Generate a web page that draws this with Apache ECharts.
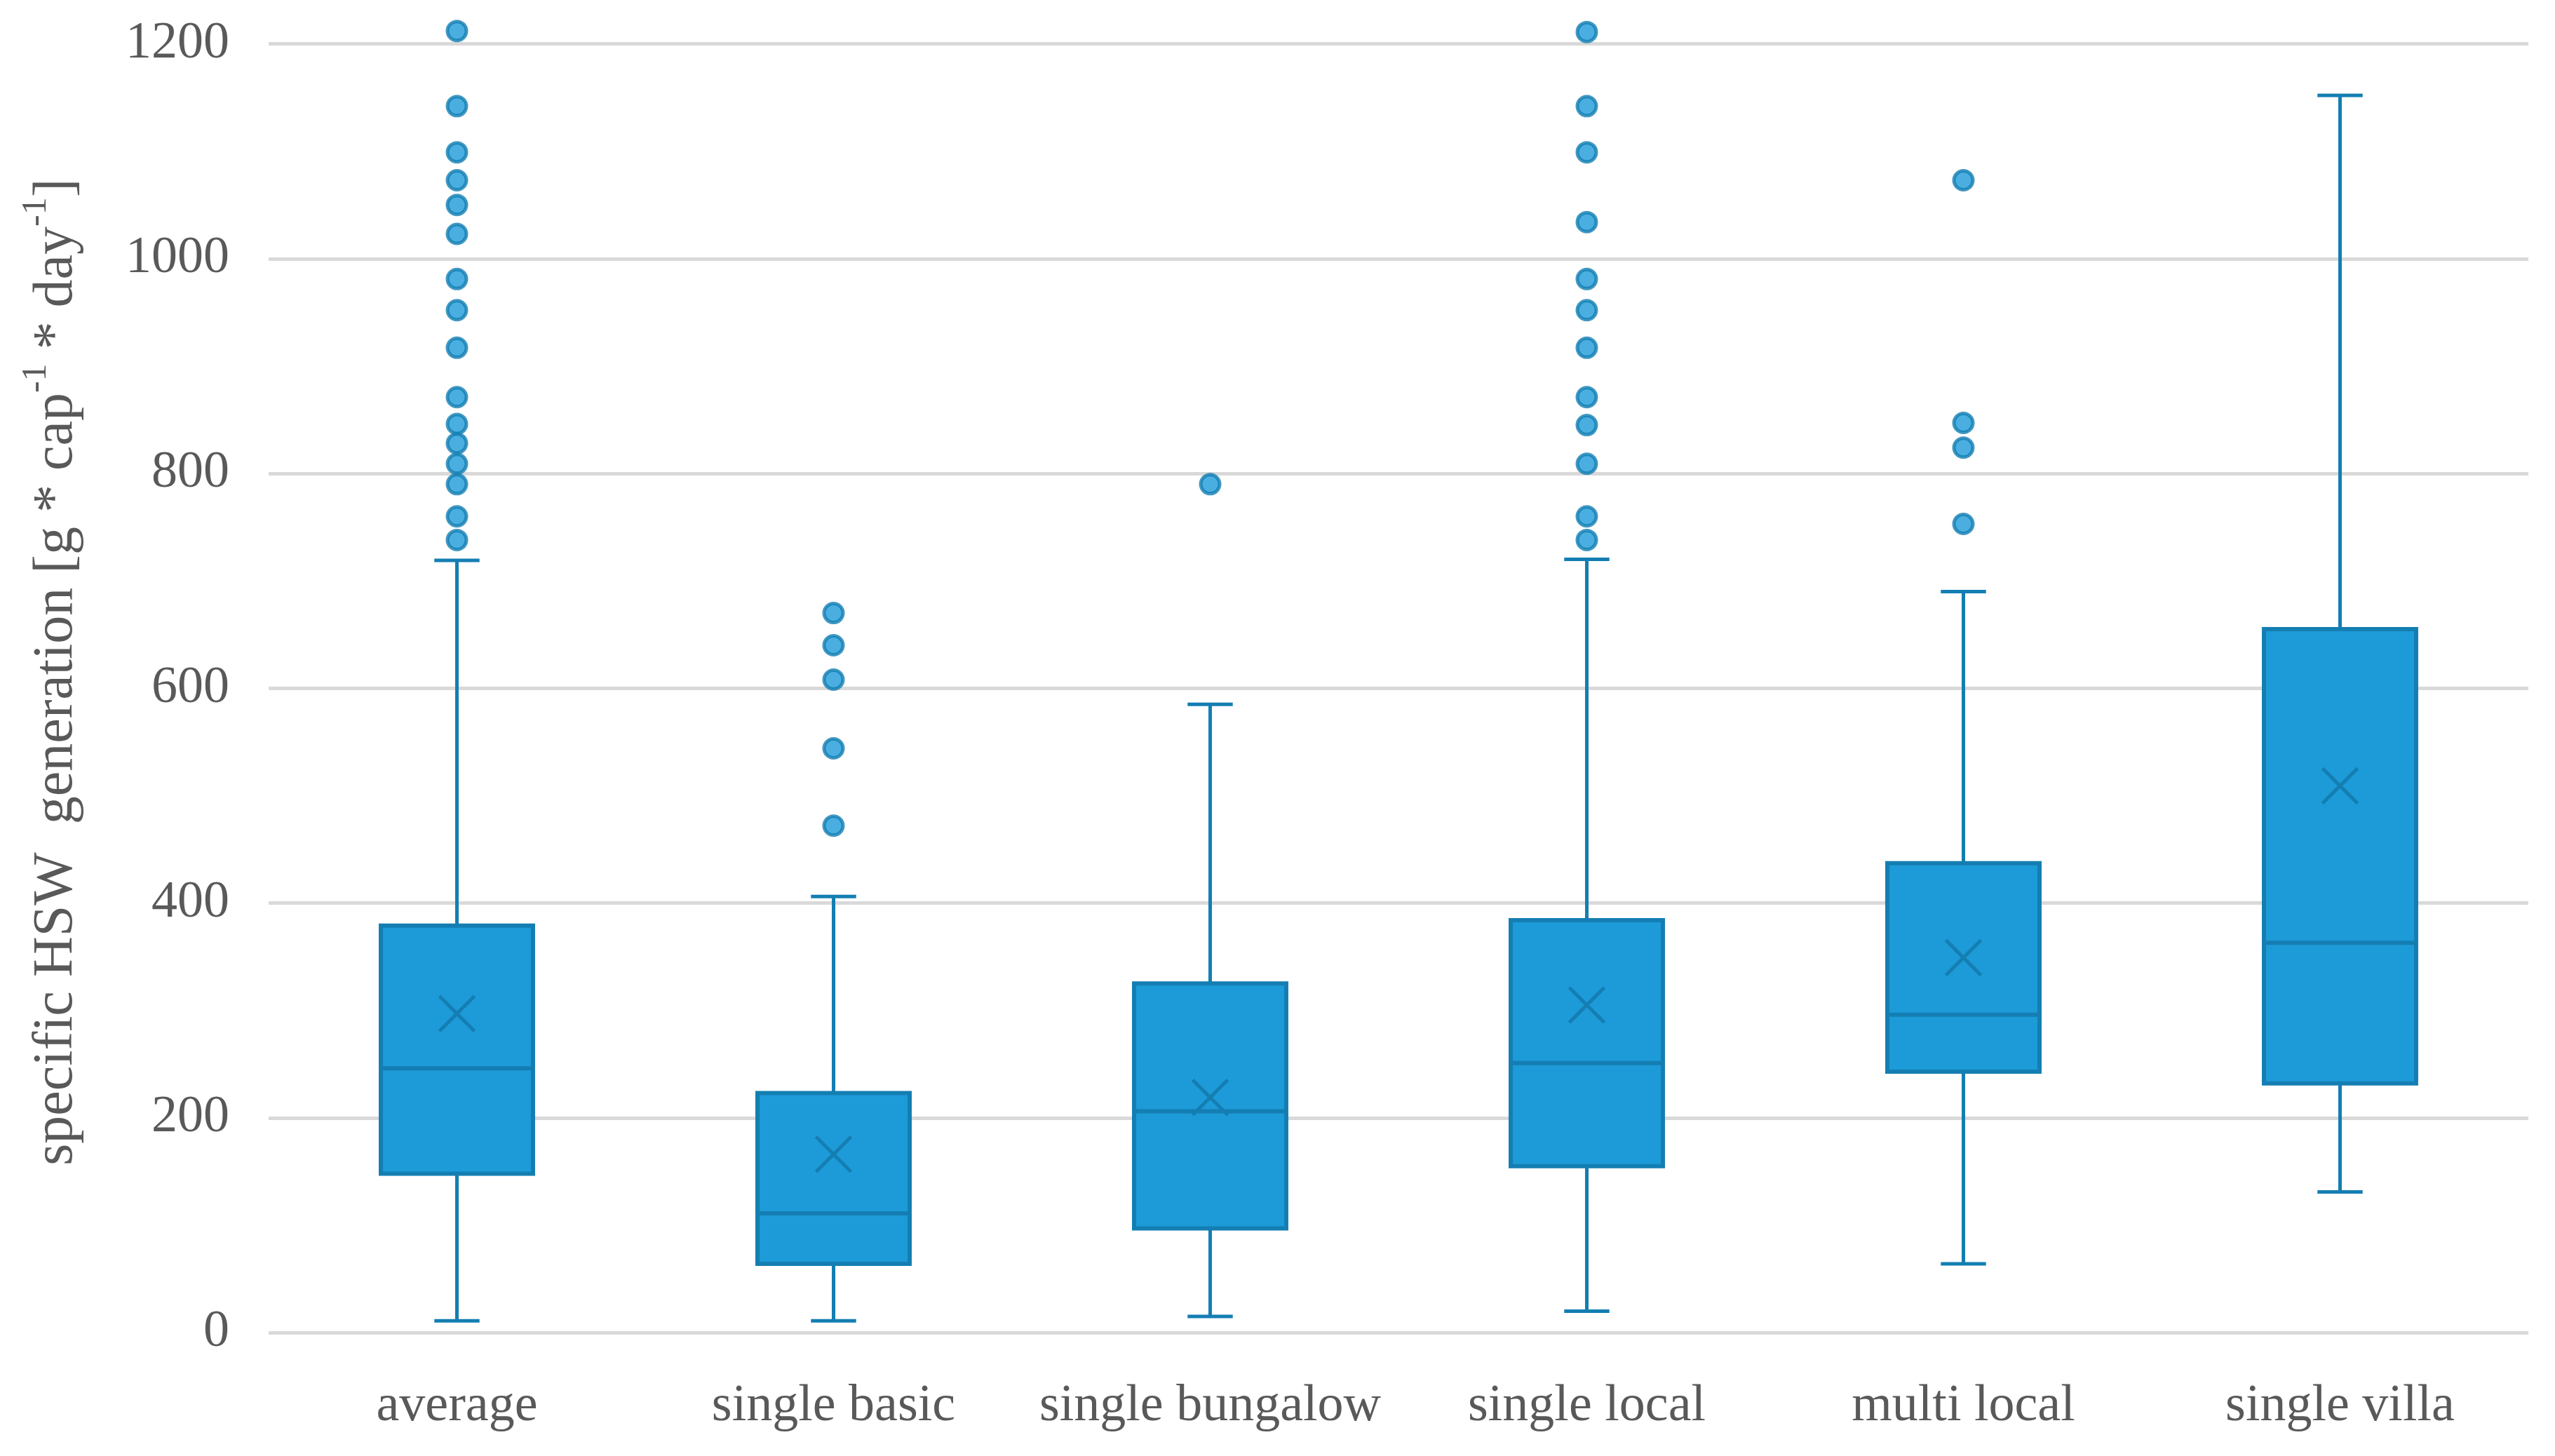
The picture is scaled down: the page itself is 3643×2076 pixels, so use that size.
<!DOCTYPE html>
<html>
<head>
<meta charset="utf-8">
<script src="https://cdn.jsdelivr.net/npm/echarts@6/dist/echarts.min.js"></script>
<style>
html,body{margin:0;padding:0;background:#fff;}
#chart{width:3643px;height:2076px;}
</style>
</head>
<body>
<div id="chart"></div>
<script>
// ---- data ----
var categories = ['average', 'single basic', 'single bungalow', 'single local', 'multi local', 'single villa'];
var lowerWhisker = [11, 11, 15, 20, 64, 131];
var q1Values     = [148, 64, 97, 155, 243, 232];
var medianValues = [246, 111, 206, 251, 296, 363];
var q3Values     = [379, 223, 325, 384, 437, 655];
var upperWhisker = [719, 406, 585, 720, 690, 1152];
var meanValues   = [297, 166, 219, 305, 349, 509];

var outliersAverage  = [1212, 1142, 1099, 1073, 1050, 1023, 981, 952, 917, 871, 846, 828, 809, 790, 760, 738];
var outliersBasic    = [670, 640, 608, 544, 472];
var outliersBungalow = [790];
var outliersLocal    = [1211, 1142, 1099, 1034, 981, 952, 917, 871, 845, 809, 760, 738];
var outliersMulti    = [1073, 847, 824, 753];
var outliersVilla    = [];

var yTicks = [0, 200, 400, 600, 800, 1000, 1200];

// ---- build ----
var FILL = '#1D9BD8', LINE = '#147EB2';
var FONT = '"Liberation Serif", "Times New Roman", serif';

var boxData = categories.map(function (c, i) {
  return [i, lowerWhisker[i], q1Values[i], medianValues[i], q3Values[i], upperWhisker[i], meanValues[i]];
});
var outlierLists = [outliersAverage, outliersBasic, outliersBungalow, outliersLocal, outliersMulti, outliersVilla];
var outlierData = [];
outlierLists.forEach(function (list, i) {
  list.forEach(function (v) { outlierData.push([i, v]); });
});

function renderBox(params, api) {
  var idx = api.value(0);
  var pLow = api.coord([idx, api.value(1)]);
  var pQ1 = api.coord([idx, api.value(2)]);
  var pMed = api.coord([idx, api.value(3)]);
  var pQ3 = api.coord([idx, api.value(4)]);
  var pHigh = api.coord([idx, api.value(5)]);
  var pMean = api.coord([idx, api.value(6)]);
  var band = api.size([1, 0])[0];
  var bw = band * 0.404;
  var cw = band * 0.12;
  var x = pQ1[0];
  var mx = 25;
  var lineStyle = { stroke: LINE, lineWidth: 5, fill: null };
  return {
    type: 'group',
    children: [
      { type: 'line', shape: { x1: x, y1: pQ3[1], x2: x, y2: pHigh[1] }, style: lineStyle },
      { type: 'line', shape: { x1: x, y1: pQ1[1], x2: x, y2: pLow[1] }, style: lineStyle },
      { type: 'line', shape: { x1: x - cw / 2, y1: pHigh[1], x2: x + cw / 2, y2: pHigh[1] }, style: lineStyle },
      { type: 'line', shape: { x1: x - cw / 2, y1: pLow[1], x2: x + cw / 2, y2: pLow[1] }, style: lineStyle },
      { type: 'rect', shape: { x: x - bw / 2, y: pQ3[1], width: bw, height: pQ1[1] - pQ3[1] },
        style: { fill: FILL, stroke: LINE, lineWidth: 6 } },
      { type: 'line', shape: { x1: x - bw / 2, y1: pMed[1], x2: x + bw / 2, y2: pMed[1] },
        style: { stroke: LINE, lineWidth: 6 } },
      { type: 'line', shape: { x1: x - mx, y1: pMean[1] - mx, x2: x + mx, y2: pMean[1] + mx },
        style: { stroke: LINE, lineWidth: 5 } },
      { type: 'line', shape: { x1: x - mx, y1: pMean[1] + mx, x2: x + mx, y2: pMean[1] - mx },
        style: { stroke: LINE, lineWidth: 5 } }
    ]
  };
}

var chart = echarts.init(document.getElementById('chart'), null, { renderer: 'canvas', devicePixelRatio: 1 });
chart.setOption({
  backgroundColor: '#ffffff',
  animation: false,
  grid: { left: 383, right: 38, top: 62.5, bottom: 176, outerBoundsMode: 'none' },
  xAxis: {
    type: 'category',
    data: categories,
    axisLine: { show: false },
    axisTick: { show: false },
    splitLine: { show: false },
    axisLabel: { color: '#595959', fontFamily: FONT, fontSize: 74, margin: 69, interval: 0 }
  },
  yAxis: {
    type: 'value',
    min: yTicks[0],
    max: yTicks[yTicks.length - 1],
    interval: 200,
    axisLine: { show: false },
    axisTick: { show: false },
    splitLine: { show: true, lineStyle: { color: '#D9D9D9', width: 5 } },
    axisLabel: {
      color: '#595959', fontFamily: FONT, fontSize: 74, margin: 56,
      formatter: function (v) { return String(v); }
    },
    name: '{a|specific HSW  generation [g * cap}{s|-1}{a| * day}{s|-1}{a|]}',
    nameLocation: 'middle',
    nameGap: 262,
    nameRotate: 90,
    nameTextStyle: {
      color: '#595959',
      fontFamily: FONT,
      padding: [0, 0, 0, 46],
      rich: {
        a: { fontSize: 80, fontFamily: FONT, color: '#595959', lineHeight: 94, verticalAlign: 'bottom' },
        s: { fontSize: 50, fontFamily: FONT, color: '#595959', lineHeight: 94, verticalAlign: 'top' }
      }
    }
  },
  series: [
    {
      type: 'custom',
      name: 'box',
      renderItem: renderBox,
      data: boxData,
      encode: { x: 0, y: [1, 2, 3, 4, 5, 6] },
      clip: false,
      z: 2
    },
    {
      type: 'scatter',
      name: 'outliers',
      data: outlierData,
      symbol: 'circle',
      symbolSize: 27,
      clip: false,
      itemStyle: { color: FILL, borderColor: LINE, borderWidth: 5 },
      z: 3
    }
  ]
});
</script>
</body>
</html>
